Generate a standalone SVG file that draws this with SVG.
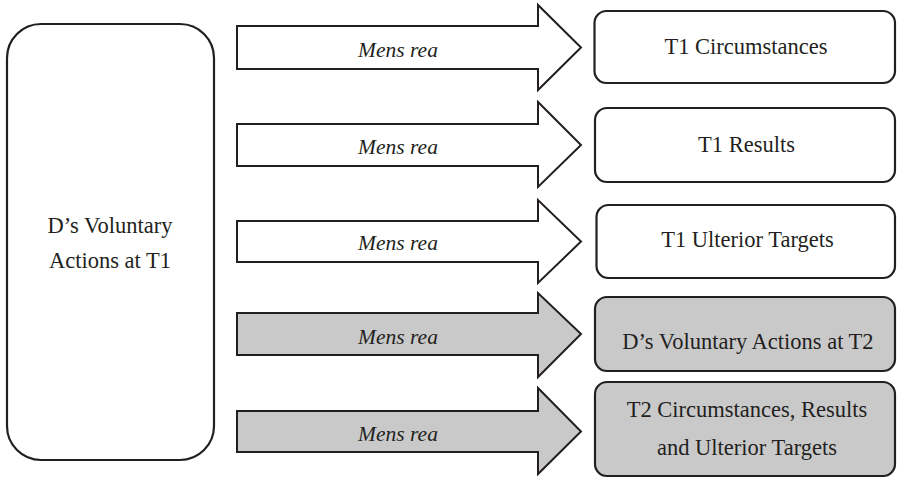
<svg xmlns="http://www.w3.org/2000/svg" width="897" height="478" viewBox="0 0 897 478">
<style>
.box{fill:#ffffff;stroke:#231f20;stroke-width:2.2}
.arr{fill:#ffffff;stroke:#231f20;stroke-width:2;stroke-linejoin:miter}
.gray{fill:#c9c9ca}
.t{font-family:"Liberation Serif",serif;font-size:22.5px;fill:#231f20;text-anchor:middle}
.i{font-family:"Liberation Serif",serif;font-size:21.5px;font-style:italic;fill:#231f20;text-anchor:middle}
</style>
<rect width="897" height="478" fill="#ffffff"/>
<g id="connectors">
<path class="arr" d="M237,26 H538 V5 L581,47.5 L538,90 V69 H237 Z"/>
<text class="i" x="398" y="57">Mens rea</text>
<path class="arr" d="M237,124 H538 V102 L581,145 L538,187 V166 H237 Z"/>
<text class="i" x="398" y="153.5">Mens rea</text>
<path class="arr" d="M237,221 H538 V200 L581,241.5 L538,283 V262 H237 Z"/>
<text class="i" x="398" y="250">Mens rea</text>
<path class="arr gray" d="M237,313 H538 V293 L581,334 L538,377 V355 H237 Z"/>
<text class="i" x="398" y="343.5">Mens rea</text>
<path class="arr gray" d="M237,411 H538 V388 L581,431.5 L538,474 V452 H237 Z"/>
<text class="i" x="398" y="441">Mens rea</text>
</g>
<g id="n0">
<rect class="box" x="7" y="24" width="207" height="436" rx="34" ry="34"/>
<text class="t" x="110" y="233">D’s Voluntary</text>
<text class="t" x="110" y="268">Actions at T1</text>
</g>
<g id="n1">
<rect class="box" x="594.5" y="11" width="300.5" height="72" rx="12" ry="12"/>
<text class="t" x="746" y="54">T1 Circumstances</text>
</g>
<g id="n2">
<rect class="box" x="595" y="108" width="300" height="74" rx="12" ry="12"/>
<text class="t" x="746.5" y="151.5">T1 Results</text>
</g>
<g id="n3">
<rect class="box" x="596.5" y="205" width="298.5" height="73" rx="12" ry="12"/>
<text class="t" x="747.5" y="246.5">T1 Ulterior Targets</text>
</g>
<g id="n4">
<rect class="box gray" x="595" y="297" width="300" height="74" rx="12" ry="12"/>
<text class="t" x="748" y="349">D’s Voluntary Actions at T2</text>
</g>
<g id="n5">
<rect class="box gray" x="595" y="382" width="300" height="94" rx="12" ry="12"/>
<text class="t" x="747" y="416.5">T2 Circumstances, Results</text>
<text class="t" x="747" y="455">and Ulterior Targets</text>
</g>
</svg>
